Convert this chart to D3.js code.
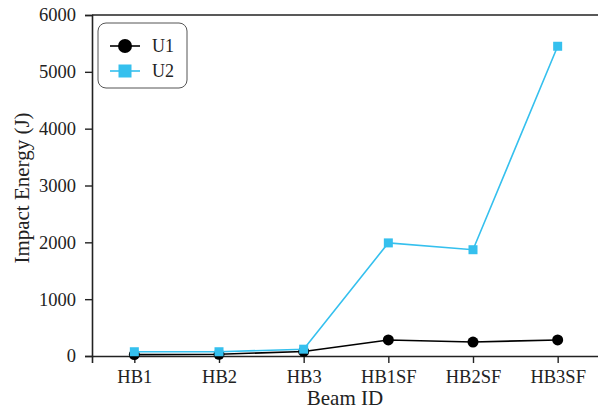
<!DOCTYPE html>
<html>
<head>
<meta charset="utf-8">
<script src="https://cdn.jsdelivr.net/npm/d3@7"></script>
<style>
  body { margin: 0; background: #fff; }
  svg { display: block; }
  svg text { font-family: "Liberation Serif", "Times New Roman", Times, "DejaVu Serif", serif !important; }
</style>
</head>
<body>
<svg width="598" height="410"></svg>
<script>
let beamIds = ["HB1", "HB2", "HB3", "HB1SF", "HB2SF", "HB3SF"];
let u1Values = [25, 30, 80, 282, 246, 282];
let u2Values = [75, 75, 120, 1990, 1870, 5450];
let yTicks = [0, 1000, 2000, 3000, 4000, 5000, 6000];

let serif = "'Liberation Serif', 'Times New Roman', Times, serif";
let svg = d3.select("svg");
let margin = { top: 15, right: -2, bottom: 54, left: 92 };
let plotWidth = 598 - margin.left - margin.right;
let plotHeight = 410 - margin.top - margin.bottom;

let x = d3.scalePoint().domain(beamIds).range([0, plotWidth]).padding(0.5);
let y = d3.scaleLinear().domain([0, 6000]).range([plotHeight, 0]);

let plot = svg.append("g").attr("transform", "translate(" + margin.left + "," + margin.top + ")");

// axes
let xAxis = d3.axisBottom(x).tickSizeOuter(0).tickSize(7).tickPadding(7);
let yAxis = d3.axisLeft(y).tickValues(yTicks).tickFormat(d3.format("d"))
  .tickSizeOuter(0).tickSize(7).tickPadding(9);

let xGroup = plot.append("g").attr("transform", "translate(0," + plotHeight + ")").call(xAxis);
let yGroup = plot.append("g").call(yAxis);
[xGroup, yGroup].forEach(g => {
  g.attr("font-family", serif).attr("font-size", 18.5);
  g.select(".domain").attr("stroke", "#222").attr("stroke-width", 1.6);
  g.selectAll(".tick line").attr("stroke", "#222").attr("stroke-width", 1.4);
  g.selectAll(".tick text").attr("fill", "#222").style("font-family", serif).style("font-size", "18.5px");
});

// top frame line
plot.append("line")
  .attr("x1", 0).attr("x2", plotWidth)
  .attr("y1", 0).attr("y2", 0)
  .attr("stroke", "#222").attr("stroke-width", 1.6);

// series
let series = [
  { name: "U1", values: u1Values, color: "#000000", shape: "circle" },
  { name: "U2", values: u2Values, color: "#35c0ee", shape: "square" }
];

let line = d3.line()
  .x((d, i) => x(beamIds[i]))
  .y(d => y(d));

series.forEach(s => {
  plot.append("path")
    .datum(s.values)
    .attr("fill", "none")
    .attr("stroke", s.color)
    .attr("stroke-width", 1.6)
    .attr("d", line);

  if (s.shape === "circle") {
    plot.selectAll(".pt-" + s.name)
      .data(s.values)
      .enter().append("circle")
      .attr("cx", (d, i) => x(beamIds[i]))
      .attr("cy", d => y(d))
      .attr("r", 5.5)
      .attr("fill", s.color);
  } else {
    plot.selectAll(".pt-" + s.name)
      .data(s.values)
      .enter().append("rect")
      .attr("x", (d, i) => x(beamIds[i]) - 4.5)
      .attr("y", d => y(d) - 4.5)
      .attr("width", 9)
      .attr("height", 9)
      .attr("fill", s.color);
  }
});

// legend
let legend = svg.append("g").attr("transform", "translate(98,23)");
legend.append("rect")
  .attr("width", 89).attr("height", 65)
  .attr("rx", 8).attr("ry", 8)
  .attr("fill", "#fff").attr("stroke", "#555").attr("stroke-width", 1);

series.forEach((s, i) => {
  let ly = 23 + i * 25;
  legend.append("line")
    .attr("x1", 12).attr("x2", 42)
    .attr("y1", ly).attr("y2", ly)
    .attr("stroke", s.color).attr("stroke-width", 1.6);
  if (s.shape === "circle") {
    legend.append("circle").attr("cx", 27).attr("cy", ly).attr("r", 7).attr("fill", s.color);
  } else {
    legend.append("rect").attr("x", 20.5).attr("y", ly - 6.5).attr("width", 13).attr("height", 13).attr("fill", s.color);
  }
  legend.append("text")
    .attr("x", 54).attr("y", ly + 6)
    .style("font-family", serif)
    .style("font-size", "18px")
    .attr("fill", "#222")
    .text(s.name);
});

// axis titles
svg.append("text")
  .attr("x", 345)
  .attr("y", 405)
  .attr("text-anchor", "middle")
  .style("font-family", serif)
  .style("font-size", "21px")
  .attr("fill", "#222")
  .text("Beam ID");

svg.append("text")
  .attr("transform", "translate(29,188) rotate(-90)")
  .attr("text-anchor", "middle")
  .style("font-family", serif)
  .style("font-size", "21px")
  .attr("fill", "#222")
  .text("Impact Energy (J)");
</script>
</body>
</html>
